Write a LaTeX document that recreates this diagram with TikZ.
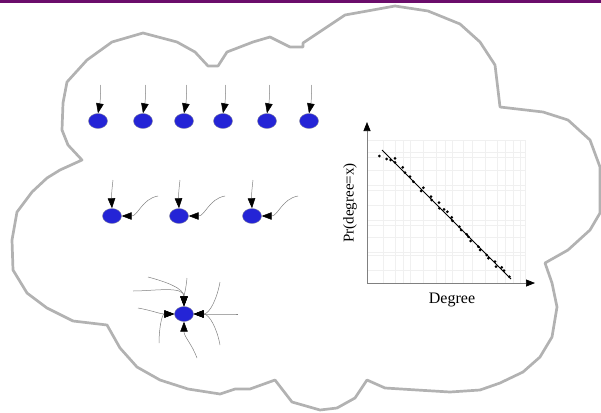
\documentclass[tikz,border=0pt]{standalone}
\usepackage{fontspec}
\setmainfont{Liberation Serif}
\usetikzlibrary{arrows.meta,shapes.geometric}
\definecolor{mypurple}{rgb}{0.42,0.05,0.42}
\definecolor{mycloud}{rgb}{0.70,0.70,0.70}
\definecolor{mynodeblue}{rgb}{0.14,0.14,0.84}
\definecolor{mynodeedge}{rgb}{0.55,0.55,0.65}
\definecolor{mylinkgray}{rgb}{0.50,0.50,0.50}
\definecolor{mygrid}{rgb}{0.94,0.94,0.94}

\begin{document}
\begin{tikzpicture}[x=1pt,y=-1pt,
    vertex/.style={ellipse,fill=mynodeblue,draw=mynodeedge,line width=0.4pt,
      minimum width=19pt,minimum height=15pt,inner sep=0pt},
    link/.style={mylinkgray,line width=0.5pt,-{Triangle[length=10pt,width=7.5pt,color=black]}},
    axisarrow/.style={mylinkgray,line width=0.7pt,-{Triangle[length=9pt,width=7pt,color=black]}}]
  \useasboundingbox (0,0) rectangle (601,412);
  \fill[mypurple] (0,0) rectangle (601,2.7);
  \draw[mycloud,line width=2.7pt,line join=round]
    (67,82) -- (87,60) -- (112,42) -- (143,33) -- (177,42) -- (195,52) -- (208,66)
    -- (218,66) -- (227,52) -- (253,42) -- (270,37) -- (290,47) -- (303,47) -- (303,43)
    -- (345,15) -- (395,6) -- (428,11) -- (460,24) -- (480,42) -- (495,65) -- (498,90)
    -- (500,107) -- (543,112) -- (568,120) -- (590,140) -- (600,167) -- (600,213)
    -- (590,230) -- (568,250) -- (545,263) -- (552,283) -- (557,307) -- (552,337)
    -- (540,357) -- (523,372) -- (500,383) -- (480,390) -- (450,392) -- (417,390)
    -- (385,388) -- (367,380) -- (355,398) -- (337,408) -- (320,410) -- (292,402)
    -- (275,380) -- (250,389) -- (235,389) -- (220,394) -- (188,389) -- (160,380)
    -- (137,367) -- (120,348) -- (107,325) -- (73,321) -- (47,308) -- (27,293)
    -- (13,270) -- (12,240) -- (17,212) -- (32,192) -- (47,178) -- (60,170) -- (82,160)
    -- (68,145) -- (62,130) -- (63,103) -- cycle;

  \foreach \tx/\tn in {98/1,143/2,184/3,223/4,267/5,309/6} {
    \node[vertex] (top\tn) at (\tx,121) {};
    \coordinate (toptail\tn) at (\tx+2.5,85);
    \draw[link] (toptail\tn) to[bend left=6] (top\tn.north);}

  \foreach \tx/\tn in {112/1,179/2,252/3} {
    \node[vertex] (mid\tn) at (\tx,216) {};
    \coordinate (midtop\tn) at (\tx+1,180);
    \coordinate (midside\tn) at (\tx+46,196);
    \draw[link] (midtop\tn) to[bend right=5] (mid\tn.north);
    \draw[link] (midside\tn) to[out=190,in=0] (mid\tn.east);}

  \node[vertex] (hub) at (184,314) {};
  \foreach \cx/\cy/\ca/\cb/\cs [count=\ci] in {148/277/-15/90/north,133/291/0/90/north,
      187/278/-95/90/north,220/282/-100/0/east,238/314/180/0/east,220/345/100/0/east,
      138/308/-10/180/west,159/343/90/180/west,197/358/110/-90/south} {
    \coordinate (hubtail\ci) at (\cx,\cy);
    \draw[link] (hubtail\ci) to[out=\ca,in=\cb] (hub.\cs);}

  \foreach \gx in {383,395,403,410,423,436,445,452,463,472,485,497,505,513,520,525}
    \draw[mygrid,line width=0.4pt] (\gx,140) -- (\gx,283);
  \foreach \gy in {140,152,157,170,185,190,205,220,225,237,252,255,270}
    \draw[mygrid,line width=0.4pt] (368,\gy) -- (525,\gy);
  \coordinate (origin) at (367,283);
  \coordinate (ytip) at (367,122);
  \coordinate (xtip) at (535,283);
  \draw[axisarrow] (origin) -- (ytip);
  \draw[axisarrow] (origin) -- (xtip);
  \draw[line width=1pt] (382,150) -- (511,279);
  \foreach \dx/\dy in {379.3/156,386.7/159,390.7/160,395/158.3,395/162.3,402.7/167.3,
      405/172.7,410/176.7,413.3/181.7,421/191,423.3/187.7,431/196.7,431.7/200,
      439/202.7,439.3/208.3,444/209.3,447.3/211.7,451.7/217.3,452.3/220.7,
      459.3/226.7,461/230,466.7/234.3,468.3/236.7,470.7/241,478.3/246.7,480/250,
      486.7/255,488.3/258.3,495/261.7,496/266.7,501.7/267.3,504/270.7,509.3/276.7}
    \fill (\dx,\dy) circle (1.5pt);
  \node[font=\fontsize{16}{18}\selectfont] (xlabel) at (452,300) {Degree};
  \node[font=\fontsize{15}{18}\selectfont,rotate=90] (ylabel) at (350,203) {Pr(degree=x)};
\end{tikzpicture}
\end{document}
